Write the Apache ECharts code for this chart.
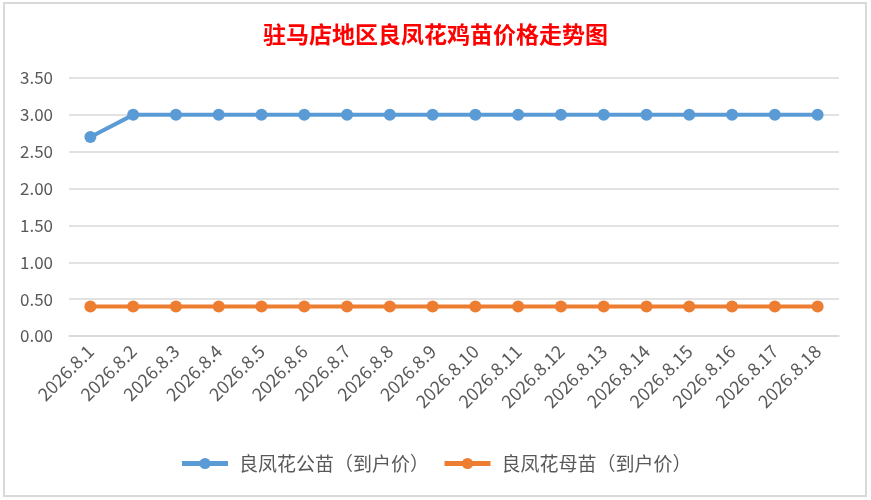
<!DOCTYPE html>
<html>
<head>
<meta charset="utf-8">
<script src="https://cdn.jsdelivr.net/npm/echarts@6/dist/echarts.min.js"></script>
<style>
  html, body { margin: 0; padding: 0; background: #fff; }
  #frame { position: absolute; left: 3px; top: 2px; width: 860px; height: 491px; border: 2px solid #d9d9d9; }
  #chart { position: absolute; left: 0; top: 0; width: 871px; height: 500px; }
</style>
</head>
<body>
<div id="frame"></div>
<div id="chart"></div>
<script>
// 日期
const dates = [
  '2026.8.1', '2026.8.2', '2026.8.3', '2026.8.4', '2026.8.5', '2026.8.6',
  '2026.8.7', '2026.8.8', '2026.8.9', '2026.8.10', '2026.8.11', '2026.8.12',
  '2026.8.13', '2026.8.14', '2026.8.15', '2026.8.16', '2026.8.17', '2026.8.18'
];
// 公苗到户价
const malePrice = [2.7, 3, 3, 3, 3, 3, 3, 3, 3, 3, 3, 3, 3, 3, 3, 3, 3, 3];
// 母苗到户价
const femalePrice = [0.4, 0.4, 0.4, 0.4, 0.4, 0.4, 0.4, 0.4, 0.4, 0.4, 0.4, 0.4, 0.4, 0.4, 0.4, 0.4, 0.4, 0.4];

const chart = echarts.init(document.getElementById('chart'));
const font = '"Noto Sans CJK SC", "Open Sans", sans-serif';

chart.setOption({
  animation: false,
  title: {
    text: '驻马店地区良凤花鸡苗价格走势图',
    left: 'center',
    top: 18,
    textStyle: { color: '#ff0000', fontSize: 23, fontWeight: 'bold', fontFamily: font }
  },
  legend: {
    bottom: 22,
    left: 'center',
    itemWidth: 46,
    itemHeight: 14,
    itemGap: 13,
    textStyle: { color: '#595959', fontSize: 19, fontFamily: font, padding: [0, 0, 0, 6] },
    data: [
      { name: '良凤花公苗（到户价）', itemStyle: { color: '#5b9bd5' }, lineStyle: { width: 5, color: '#5b9bd5' } },
      { name: '良凤花母苗（到户价）', itemStyle: { color: '#ed7d31' }, lineStyle: { width: 5, color: '#ed7d31' } }
    ]
  },
  grid: { left: 69, right: 32, top: 78, bottom: 164 },
  xAxis: {
    type: 'category',
    data: dates,
    axisLine: { lineStyle: { color: '#d9d9d9', width: 1.5 } },
    axisTick: { show: false },
    axisLabel: { color: '#595959', fontSize: 18, rotate: 45, margin: 12, interval: 0, fontFamily: font }
  },
  yAxis: {
    type: 'value',
    min: 0,
    max: 3.5,
    interval: 0.5,
    axisLine: { show: false },
    axisTick: { show: false },
    splitLine: { lineStyle: { color: '#d9d9d9', width: 1.5 } },
    axisLabel: { color: '#595959', fontSize: 17, margin: 16, fontFamily: font, formatter: v => v.toFixed(2) }
  },
  series: [
    {
      name: '良凤花公苗（到户价）',
      type: 'line',
      data: malePrice,
      symbol: 'circle',
      symbolSize: 12,
      lineStyle: { width: 4, color: '#5b9bd5' },
      itemStyle: { color: '#5b9bd5' }
    },
    {
      name: '良凤花母苗（到户价）',
      type: 'line',
      data: femalePrice,
      symbol: 'circle',
      symbolSize: 12,
      lineStyle: { width: 4, color: '#ed7d31' },
      itemStyle: { color: '#ed7d31' }
    }
  ]
});
</script>
</body>
</html>
